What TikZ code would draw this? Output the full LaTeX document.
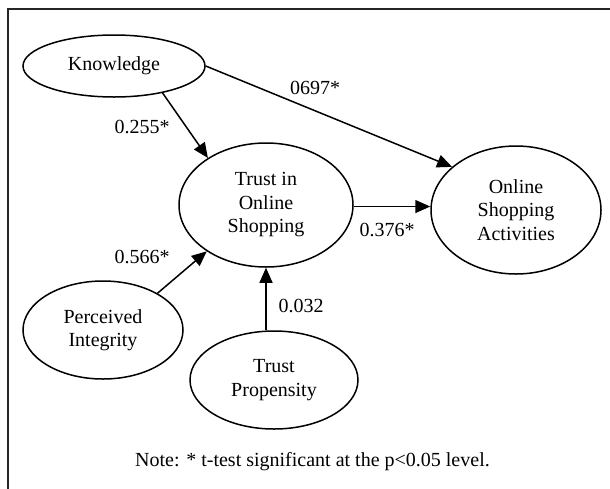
\documentclass[tikz,border=0pt]{standalone}
\usepackage{fontspec}
\setmainfont{Liberation Serif}
\usetikzlibrary{shapes.geometric,arrows.meta}
\begin{document}
\begin{tikzpicture}[x=1pt,y=-1pt,
  var/.style={ellipse,draw,line width=1.5pt,inner sep=0pt,align=center,font=\fontsize{20}{23.5}\selectfont},
  lbl/.style={inner sep=0pt,font=\fontsize{20}{23.5}\selectfont},
  conn/.style={line width=1.5pt,-{Triangle[length=15pt,width=13pt]}}]
\useasboundingbox (0,0) rectangle (610,488);
\draw[line width=2pt,black!85] (8,9) rectangle (640,520);
\node[var,minimum width=182pt,minimum height=62pt] (K) at (114,66) {Knowledge};
\node[var,minimum width=174pt,minimum height=124pt] (T) at (266,205) {Trust in\\Online\\Shopping};
\node[var,minimum width=170pt,minimum height=128pt] (O) at (516,210) {Online\\Shopping\\Activities};
\node[var,minimum width=160pt,minimum height=98pt] (P) at (103,330) {Perceived\\Integrity};
\node[var,minimum width=168pt,minimum height=98pt] (R) at (274,380) {Trust\\Propensity};
\draw[conn] (K.-29.4) -- (T.141.3);
\draw[conn] (K.0.6) -- (O.146.5);
\draw[conn] (T.-1.7) -- (T.-1.7 -| O.west);
\draw[conn] (P.34.4) -- (T.218.2);
\draw[conn] (R.north -| T.south) -- (T.south);
\node[lbl] (l1) at (315,88) {0697*};
\node[lbl] (l2) at (142,127) {0.255*};
\node[lbl] (l3) at (387,230) {0.376*};
\node[lbl] (l4) at (142,257) {0.566*};
\node[lbl] (l5) at (301,306) {0.032};
\node[lbl] (note) at (312.5,462) {Note: * t-test significant at the p<0.05 level.};
\end{tikzpicture}
\end{document}
